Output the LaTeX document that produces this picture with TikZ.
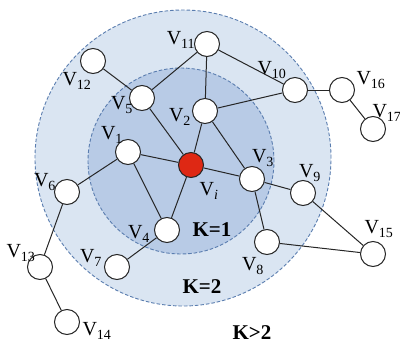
\documentclass[tikz,border=0pt]{standalone}
\usepackage{fontspec}
\setmainfont{Liberation Serif}
\definecolor{outerfill}{RGB}{218,229,242}
\definecolor{innerfill}{RGB}{184,203,230}
\definecolor{ringline}{RGB}{90,125,175}
\definecolor{hubred}{RGB}{222,40,20}
\begin{document}
\begin{tikzpicture}[x=1pt,y=-1pt,
  vert/.style={circle,draw=black!85,line width=1pt,fill=white,minimum size=25pt,inner sep=0pt},
  hub/.style={vert,fill=hubred},
  lab/.style={font=\fontsize{20}{22}\selectfont,inner sep=0pt},
  klab/.style={font=\fontsize{21}{23}\selectfont\bfseries,inner sep=0pt},
  edge/.style={draw=black!85,line width=1pt},
  ring/.style={draw=ringline,dash pattern=on 3.5pt off 2pt,line width=0.9pt}]
\useasboundingbox (0,0) rectangle (400,349);
\path[ring,fill=outerfill] (183,158) circle (148pt);
\path[ring,fill=innerfill] (181,161) circle (93pt);
% nodes
\node[hub]  (vi)  at (191,165) {};
\node[vert] (v1)  at (128,152) {};
\node[vert] (v2)  at (205,111) {};
\node[vert] (v3)  at (252,179) {};
\node[vert] (v4)  at (167,230) {};
\node[vert] (v5)  at (142,98) {};
\node[vert] (v6)  at (67,192) {};
\node[vert] (v7)  at (117,267) {};
\node[vert] (v8)  at (267,242) {};
\node[vert] (v9)  at (303,193) {};
\node[vert] (v10) at (295,90) {};
\node[vert] (v11) at (207,44) {};
\node[vert] (v12) at (93,61) {};
\node[vert] (v13) at (40,267) {};
\node[vert] (v14) at (67,322) {};
\node[vert] (v15) at (373,254) {};
\node[vert] (v16) at (342,90) {};
\node[vert] (v17) at (373,129) {};
% edges
\draw[edge] (v12) -- (v5);
\draw[edge] (v5) -- (v11);
\draw[edge] (v5) -- (vi);
\draw[edge] (v11) -- (v2);
\draw[edge] (v11) -- (v10);
\draw[edge] (v2) -- (v10);
\draw[edge] (v2) -- (vi);
\draw[edge] (v2) -- (v3);
\draw[edge] (v10) -- (v16);
\draw[edge] (v16) -- (v17);
\draw[edge] (v1) -- (vi);
\draw[edge] (v1) -- (v6);
\draw[edge] (v1) -- (v4);
\draw[edge] (vi) -- (v4);
\draw[edge] (vi) -- (v3);
\draw[edge] (v3) -- (v9);
\draw[edge] (v3) -- (v8);
\draw[edge] (v9) -- (v15);
\draw[edge] (v8) -- (v15);
\draw[edge] (v4) -- (v7);
\draw[edge] (v6) -- (v13);
\draw[edge] (v13) -- (v14);
% labels
\node[lab] (l11) at (181,40) {V\textsubscript{11}};
\node[lab] (l12) at (77,81) {V\textsubscript{12}};
\node[lab] (l5)  at (122,105) {V\textsubscript{5}};
\node[lab] (l2)  at (180,117) {V\textsubscript{2}};
\node[lab] (l1)  at (112,135) {V\textsubscript{1}};
\node[lab] (li)  at (209,191) {V\textsubscript{\textit{i}}};
\node[lab] (l3)  at (263,158) {V\textsubscript{3}};
\node[lab] (l9)  at (310,173) {V\textsubscript{9}};
\node[lab] (l10) at (272,70) {V\textsubscript{10}};
\node[lab] (l16) at (371,80) {V\textsubscript{16}};
\node[lab] (l17) at (387,113) {V\textsubscript{17}};
\node[lab] (l15) at (379,229) {V\textsubscript{15}};
\node[lab] (l8)  at (253,266) {V\textsubscript{8}};
\node[lab] (l4)  at (139,234) {V\textsubscript{4}};
\node[lab] (l7)  at (91,258) {V\textsubscript{7}};
\node[lab] (l6)  at (45,182) {V\textsubscript{6}};
\node[lab] (l13) at (21,253) {V\textsubscript{13}};
\node[lab] (l14) at (97,331) {V\textsubscript{14}};
\node[klab] (k1) at (212,230) {K=1};
\node[klab] (k2) at (202,287) {K=2};
\node[klab] (k3) at (252,333) {K>2};
\end{tikzpicture}
\end{document}
